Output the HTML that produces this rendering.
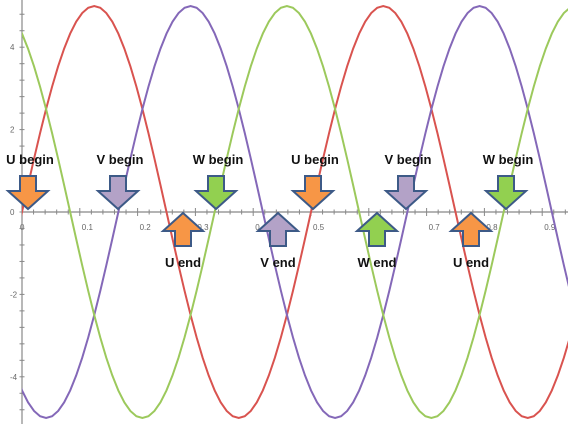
<!DOCTYPE html>
<html><head><meta charset="utf-8"><style>
html,body{margin:0;padding:0;background:#fff;}
svg{display:block;font-family:"Liberation Sans",sans-serif;}
.lbl{font-weight:bold;font-size:13px;fill:#111;text-anchor:middle;}
.tk{font-size:8px;fill:#666;}
</style></head><body>
<svg id="chart" width="568" height="424" viewBox="0 0 568 424">
<g id="axes"></g>
<g id="series"></g>
<g id="notes"></g>
</svg>
<script>
// data: extrema of each phase (x, value)
const redX = [-0.125, 0.125, 0.375, 0.625, 0.875, 1.125];
const redY = [-5, 5, -5, 5, -5, 5];
const purpleX = [-0.2083, 0.0417, 0.2917, 0.5417, 0.7917, 1.0417];
const purpleY = [5, -5, 5, -5, 5, -5];
const greenX = [-0.0417, 0.2083, 0.4583, 0.7083, 0.9583, 1.2083];
const greenY = [5, -5, 5, -5, 5, -5];
const xTicks = [0.1, 0.2, 0.3, 0.4, 0.5, 0.6, 0.7, 0.8, 0.9];
const xTickLabels = ["0.1","0.2","0.3","0.4","0.5","0.6","0.7","0.8","0.9"];
const yTicks = [-4, -2, 0, 2, 4];
const yTickLabels = ["-4","-2","0","2","4"];

const X0 = 22, XS = 578, Y0 = 212, YS = 41.2;
const sx = v => X0 + v * XS;
const sy = v => Y0 - v * YS;
const NS = "http://www.w3.org/2000/svg";
function mk(tag, attrs, parent){ const e = document.createElementNS(NS, tag); for (const k in attrs) e.setAttribute(k, attrs[k]); parent.appendChild(e); return e; }

const axes = document.getElementById('axes');
// clip
const defs = mk('defs', {}, document.getElementById('chart'));
const cp = mk('clipPath', {id:'plot'}, defs);
mk('rect', {x:X0, y:0, width:568-X0, height:424}, cp);

// x axis
const xa = mk('line', {x1:X0, y1:Y0, x2:568, y2:Y0, stroke:'#888', 'stroke-width':1.2}, axes);


for (let i = 1; i <= 47; i++) {
  const v = i * 0.02; const px = sx(v); if (px > 567) break;
  const major = Math.abs(v*10 - Math.round(v*10)) < 1e-6;
  mk('line', {x1:px, y1:Y0-(major?4:2.5), x2:px, y2:Y0+(major?4:2.5), stroke:'#888', 'stroke-width':1}, axes);
}
xTicks.forEach((v, i) => {
  const t = mk('text', {x:sx(v)+2, y:Y0+18, class:'tk'}, axes);
  t.textContent = xTickLabels[i];
  
  
});
const t0 = mk('text', {x:X0-2, y:Y0+18, class:'tk'}, axes); t0.textContent = '0';
// y axis
const ya = mk('line', {x1:X0, y1:0, x2:X0, y2:424, stroke:'#888', 'stroke-width':1.2}, axes);


for (let v = -5.2; v <= 5.2; v += 0.4) {
  mk('line', {x1:X0-2.5, y1:sy(v), x2:X0+2.5, y2:sy(v), stroke:'#888', 'stroke-width':1}, axes);
}
yTicks.forEach((v, i) => {
  const t = mk('text', {x:10, y:sy(v)+3, class:'tk'}, axes);
  t.textContent = yTickLabels[i];
  
  
});

// series: cosine interpolation between extrema
const ser = document.getElementById('series');
function drawSeries(xs, ys, color, name) {
  let d = '';
  for (let i = 0; i < xs.length - 1; i++) {
    for (let s = 0; s <= 24; s++) {
      const t = s / 24;
      const x = xs[i] + (xs[i+1] - xs[i]) * t;
      const y = ys[i] + (ys[i+1] - ys[i]) * (1 - Math.cos(Math.PI * t)) / 2;
      d += (d ? 'L' : 'M') + sx(x).toFixed(2) + ',' + sy(y).toFixed(2);
    }
  }
  const p = mk('path', {d:d, fill:'none', stroke:color, 'stroke-width':2, 'clip-path':'url(#plot)'}, ser);
  
  
}
drawSeries(redX, redY, '#d9534f', 'u-phase-line');
drawSeries(purpleX, purpleY, '#8468b8', 'v-phase-line');
drawSeries(greenX, greenY, '#9cc95c', 'w-phase-line');

// annotations
const notes = document.getElementById('notes');
const ORANGE = '#f79646', PURPLE = '#b3a2c7', GREEN = '#92d050';
const downArrows = [[28,'U begin',ORANGE],[118,'V begin',PURPLE],[216,'W begin',GREEN],[313,'U begin',ORANGE],[406,'V begin',PURPLE],[506,'W begin',GREEN]];
const upArrows = [[183,'U end',ORANGE],[278,'V end',PURPLE],[377,'W end',GREEN],[471,'U end',ORANGE]];
downArrows.forEach(a => {
  const c = a[0];
  const p = mk('polygon', {points:`${c-8},176 ${c+8},176 ${c+8},191 ${c+20},191 ${c},209 ${c-20},191 ${c-8},191`, fill:a[2], stroke:'#3d5a87', 'stroke-width':2, 'stroke-linejoin':'miter'}, notes);
  
  
  const t = mk('text', {x:c+2, y:164, class:'lbl'}, notes);
  t.textContent = a[1];
  
  
});
upArrows.forEach(a => {
  const c = a[0];
  const p = mk('polygon', {points:`${c},213 ${c+20},231 ${c+8},231 ${c+8},246 ${c-8},246 ${c-8},231 ${c-20},231`, fill:a[2], stroke:'#3d5a87', 'stroke-width':2, 'stroke-linejoin':'miter'}, notes);
  
  
  const t = mk('text', {x:c, y:267, class:'lbl'}, notes);
  t.textContent = a[1];
  
  
});
</script>
</body></html>
